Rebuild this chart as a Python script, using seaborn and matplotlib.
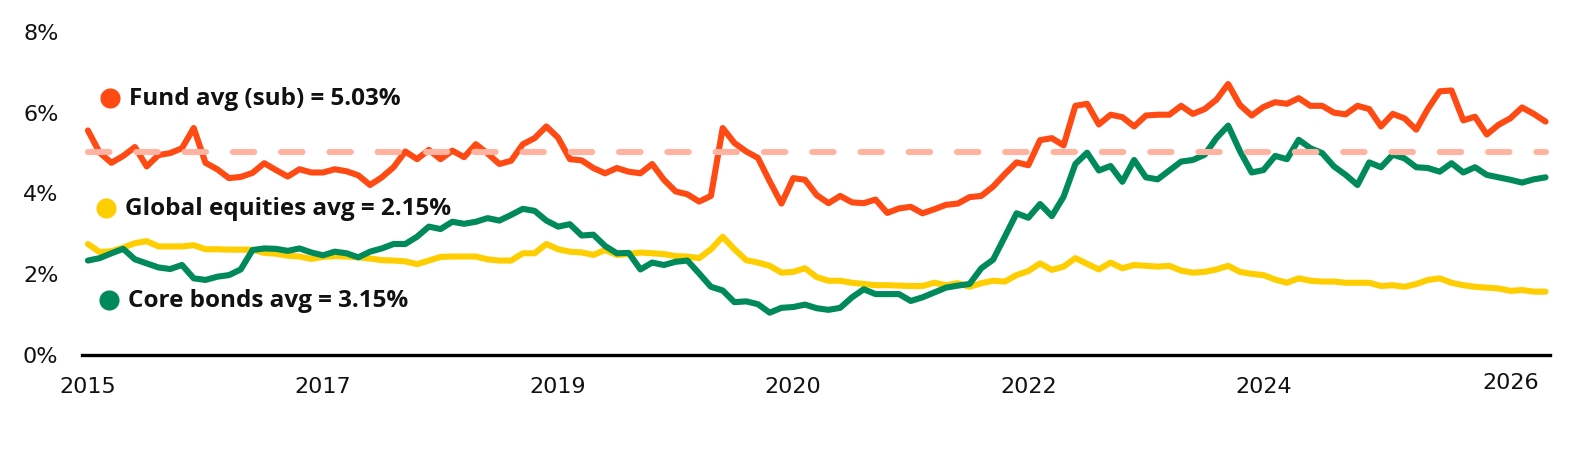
import matplotlib
matplotlib.use("Agg")
import matplotlib.pyplot as plt
import matplotlib.transforms as mtransforms
import pandas as pd
import seaborn as sns

# monthly yields (%)
fund = [5.56, 5.01, 4.76, 4.93, 5.15, 4.67, 4.95, 5.00, 5.12, 5.62,
        4.76, 4.60, 4.38, 4.41, 4.51, 4.75, 4.58, 4.42, 4.60, 4.52,
        4.52, 4.60, 4.55, 4.45, 4.21, 4.40, 4.65, 5.04, 4.85, 5.08,
        4.85, 5.06, 4.90, 5.22, 4.99, 4.73, 4.81, 5.22, 5.37, 5.66,
        5.38, 4.85, 4.82, 4.63, 4.50, 4.63, 4.54, 4.50, 4.73, 4.34,
        4.05, 3.98, 3.80, 3.94, 5.62, 5.25, 5.04, 4.88, 4.30, 3.75,
        4.38, 4.34, 3.96, 3.76, 3.94, 3.78, 3.76, 3.85, 3.52, 3.63,
        3.67, 3.51, 3.61, 3.72, 3.75, 3.91, 3.94, 4.17, 4.48, 4.77,
        4.70, 5.32, 5.37, 5.19, 6.17, 6.22, 5.71, 5.95, 5.89, 5.66,
        5.93, 5.95, 5.95, 6.17, 5.97, 6.09, 6.32, 6.71, 6.19, 5.93,
        6.14, 6.26, 6.22, 6.36, 6.17, 6.17, 6.00, 5.96, 6.17, 6.09,
        5.66, 5.97, 5.86, 5.58, 6.10, 6.53, 6.55, 5.81, 5.90, 5.46,
        5.70, 5.86, 6.13, 5.97, 5.78]

equities = [2.75, 2.55, 2.57, 2.66, 2.77, 2.82, 2.69, 2.69, 2.69, 2.72,
            2.62, 2.62, 2.61, 2.61, 2.61, 2.53, 2.51, 2.46, 2.44, 2.38,
            2.43, 2.45, 2.44, 2.42, 2.39, 2.35, 2.34, 2.32, 2.25, 2.34,
            2.43, 2.44, 2.44, 2.44, 2.37, 2.34, 2.34, 2.52, 2.52, 2.75,
            2.62, 2.56, 2.54, 2.48, 2.60, 2.48, 2.50, 2.54, 2.52, 2.50,
            2.45, 2.44, 2.40, 2.62, 2.93, 2.62, 2.35, 2.29, 2.21, 2.04,
            2.06, 2.15, 1.93, 1.84, 1.84, 1.79, 1.76, 1.73, 1.73, 1.72,
            1.71, 1.71, 1.79, 1.73, 1.78, 1.69, 1.78, 1.84, 1.82, 1.98,
            2.08, 2.27, 2.11, 2.19, 2.40, 2.26, 2.12, 2.29, 2.15, 2.23,
            2.21, 2.19, 2.21, 2.09, 2.04, 2.06, 2.12, 2.21, 2.06, 2.01,
            1.98, 1.87, 1.79, 1.90, 1.84, 1.82, 1.82, 1.79, 1.79, 1.79,
            1.71, 1.73, 1.69, 1.76, 1.86, 1.90, 1.79, 1.73, 1.69, 1.67,
            1.65, 1.59, 1.61, 1.57, 1.57]

bonds = [2.34, 2.40, 2.52, 2.63, 2.37, 2.27, 2.17, 2.13, 2.23, 1.90,
         1.86, 1.94, 1.98, 2.12, 2.60, 2.64, 2.63, 2.58, 2.64, 2.54,
         2.47, 2.56, 2.52, 2.42, 2.56, 2.64, 2.75, 2.75, 2.93, 3.18,
         3.12, 3.30, 3.25, 3.30, 3.39, 3.33, 3.47, 3.62, 3.57, 3.33,
         3.18, 3.24, 2.96, 2.98, 2.70, 2.52, 2.53, 2.12, 2.29, 2.23,
         2.31, 2.34, 2.02, 1.69, 1.60, 1.31, 1.33, 1.26, 1.05, 1.17,
         1.19, 1.25, 1.16, 1.12, 1.17, 1.43, 1.63, 1.51, 1.51, 1.51,
         1.34, 1.43, 1.55, 1.67, 1.72, 1.76, 2.15, 2.36, 2.93, 3.51,
         3.40, 3.74, 3.44, 3.92, 4.73, 5.01, 4.57, 4.68, 4.29, 4.83,
         4.40, 4.35, 4.57, 4.79, 4.83, 4.96, 5.37, 5.68, 5.05, 4.52,
         4.58, 4.93, 4.85, 5.33, 5.12, 5.00, 4.67, 4.46, 4.21, 4.77,
         4.65, 4.96, 4.87, 4.65, 4.63, 4.54, 4.75, 4.52, 4.65, 4.46,
         4.40, 4.34, 4.27, 4.35, 4.40]

fund_avg = 5.03
year_ticks = [0, 20, 40, 60, 80, 100, 121]
year_labels = ['2015', '2017', '2019', '2020', '2022', '2024', '2026']
pct_ticks = [0, 2, 4, 6, 8]

ORANGE = '#FF4A14'
YELLOW = '#FFCE00'
GREEN = '#008A5B'
SALMON = '#FFB3A0'

sns.set_style('white')
plt.rcParams['font.family'] = ['DejaVu Sans']

df = pd.DataFrame({'month': range(len(fund)), 'fund': fund,
                   'equities': equities, 'bonds': bonds})

fig = plt.figure(figsize=(15.9, 4.76), dpi=100)
ax = fig.add_axes([0.0516, 0.254, 0.9234, 0.679])

line_kw = dict(linewidth=4.4, solid_joinstyle='round', solid_capstyle='round')
sns.lineplot(data=df, x='month', y='equities', color=YELLOW, ax=ax, **line_kw)
sns.lineplot(data=df, x='month', y='bonds', color=GREEN, ax=ax, **line_kw)
sns.lineplot(data=df, x='month', y='fund', color=ORANGE, ax=ax, **line_kw)

# average of the fund as a dashed reference line
ax.plot([df.month.min(), df.month.max()], [fund_avg, fund_avg], color=SALMON,
        linewidth=4.4, dashes=(3.5, 4.4), dash_capstyle='round', zorder=5)

# inline legend: dot + bold text
notes = [('Fund avg (sub) = 5.03%', ORANGE, 6.37, 1.9),
         ('Global equities avg = 2.15%', YELLOW, 3.64, 1.55),
         ('Core bonds avg = 3.15%', GREEN, 1.36, 1.8)]
for label, col, yv, xv in notes:
    ax.scatter([xv], [yv], s=210, color=col, zorder=6, linewidths=0)
    ax.text(xv + 1.6, yv - 0.03, label, fontsize=17.5, fontweight='bold',
            family=['Open Sans', 'DejaVu Sans'],
            color='#111111', va='center', ha='left')

ax.set_xlim(-0.5, 124.4)
ax.set_ylim(0, 8)
ax.set_xticks(year_ticks)
ax.set_xticklabels(year_labels)
ax.set_yticks(pct_ticks)
ax.set_yticklabels([f'{p}%' for p in pct_ticks])
ax.set_xlabel('')
ax.set_ylabel('')
ax.tick_params(axis='both', length=0, labelsize=16, colors='#111111')
ax.tick_params(axis='x', pad=16)
ax.tick_params(axis='y', pad=17)

# the last year label sits a bit higher in the original
lab = ax.get_xticklabels()[-1]
lab.set_transform(lab.get_transform() +
                  mtransforms.ScaledTranslation(0, 4 / 100, fig.dpi_scale_trans))

for side in ['top', 'right', 'left']:
    ax.spines[side].set_visible(False)
ax.spines['bottom'].set_color('black')
ax.spines['bottom'].set_linewidth(2.4)
ax.grid(False)

fig.savefig('out.png', dpi=100)
